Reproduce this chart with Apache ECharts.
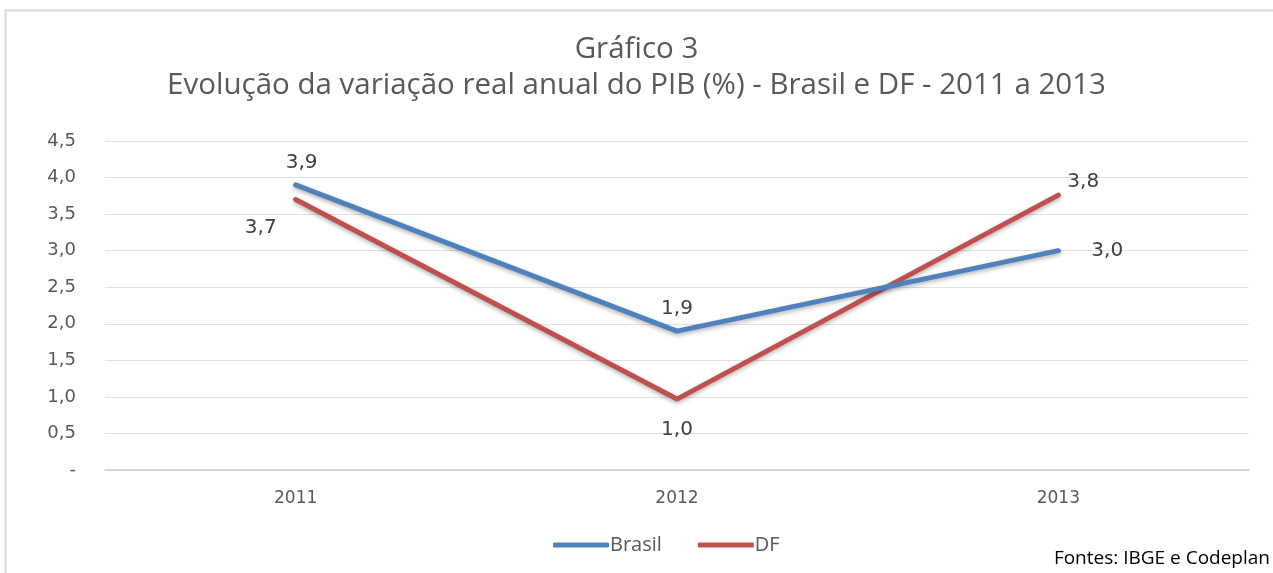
<!DOCTYPE html>
<html>
<head>
<meta charset="utf-8">
<script src="https://cdn.jsdelivr.net/npm/echarts@6/dist/echarts.min.js"></script>
<style>
  html, body { margin: 0; padding: 0; background: #fff; }
  #chart { width: 1273px; height: 573px; }
</style>
</head>
<body>
<div id="chart"></div>
<script>
// dados do gráfico
const anos = ['2011', '2012', '2013'];
const brasil = [3.9, 1.9, 3.0];
const df = [3.7, 0.97, 3.76];

// posição dos rótulos de cada ponto
const posBrasil = ['top', 'top', 'right'];
const posDf = ['left', 'bottom', 'right'];

const fmt = v => v.toFixed(1).replace('.', ',');

function pontos(valores, posicoes, offsets) {
  return valores.map((v, i) => ({
    value: v,
    label: { show: true, position: posicoes[i], offset: offsets[i] }
  }));
}

const chart = echarts.init(document.getElementById('chart'));

const rotulo = {
  show: true,
  color: '#404040',
  fontFamily: 'Verdana, "DejaVu Sans", sans-serif',
  fontSize: 20,
  formatter: p => fmt(p.value)
};

const option = {
  backgroundColor: '#fff',
  animation: false,
  graphic: [{
    type: 'rect',
    shape: { x: 5.5, y: 10.5, width: 1290, height: 600 },
    style: { fill: 'none', stroke: '#d9d9d9', lineWidth: 2 }
  }, {
    type: 'text',
    right: 3,
    bottom: 5,
    style: {
      text: 'Fontes: IBGE e Codeplan',
      font: '19px "Open Sans", sans-serif',
      fill: '#000'
    }
  }],
  title: {
    text: 'Gráfico 3\nEvolução da variação real anual do PIB (%) - Brasil e DF - 2011 a 2013',
    left: 'center',
    top: 27,
    textStyle: {
      fontFamily: 'Open Sans',
      fontWeight: 'normal',
      fontSize: 29.5,
      lineHeight: 36,
      color: '#595959'
    }
  },
  legend: {
    bottom: 13,
    left: 548,
    itemWidth: 56,
    itemHeight: 5,
    itemGap: 36,
    icon: 'roundRect',
    textStyle: { fontFamily: 'Open Sans', fontSize: 20, color: '#595959', padding: [0, 0, 0, -4] },
    data: ['Brasil', 'DF']
  },
  grid: { left: 105, right: 24, top: 141, bottom: 103 },
  xAxis: {
    type: 'category',
    data: anos,
    boundaryGap: true,
    axisLine: { lineStyle: { color: '#d0d0d0', width: 1.5 } },
    axisTick: { show: false },
    axisLabel: { color: '#595959', fontFamily: 'Verdana, "DejaVu Sans", sans-serif', fontSize: 17, margin: 20 }
  },
  yAxis: {
    type: 'value',
    min: 0,
    max: 4.5,
    interval: 0.5,
    axisLine: { show: false },
    axisTick: { show: false },
    splitLine: { lineStyle: { color: '#e0e0e0' } },
    axisLabel: {
      color: '#595959',
      fontFamily: 'Verdana, "DejaVu Sans", sans-serif',
      fontSize: 18,
      margin: 29,
      formatter: v => v === 0 ? '-' : fmt(v)
    }
  },
  series: [{
    name: 'Brasil',
    type: 'line',
    data: pontos(brasil, posBrasil, [[6, -7], [0, -7], [28, 0]]),
    symbol: 'circle',
    symbolSize: 0,
    showSymbol: true,
    lineStyle: { color: '#4f81bd', width: 5, cap: 'round', shadowColor: 'rgba(0,0,0,0.3)', shadowBlur: 4, shadowOffsetY: 2 },
    itemStyle: { color: '#4f81bd' },
    label: rotulo,
    z: 3
  }, {
    name: 'DF',
    type: 'line',
    data: pontos(df, posDf, [[-14, 28], [0, 16], [4, -13]]),
    symbol: 'circle',
    symbolSize: 0,
    showSymbol: true,
    lineStyle: { color: '#c0504d', width: 5, cap: 'round', shadowColor: 'rgba(0,0,0,0.3)', shadowBlur: 4, shadowOffsetY: 2 },
    itemStyle: { color: '#c0504d' },
    label: rotulo,
    z: 2
  }]
};

chart.setOption(option);
</script>
</body>
</html>
